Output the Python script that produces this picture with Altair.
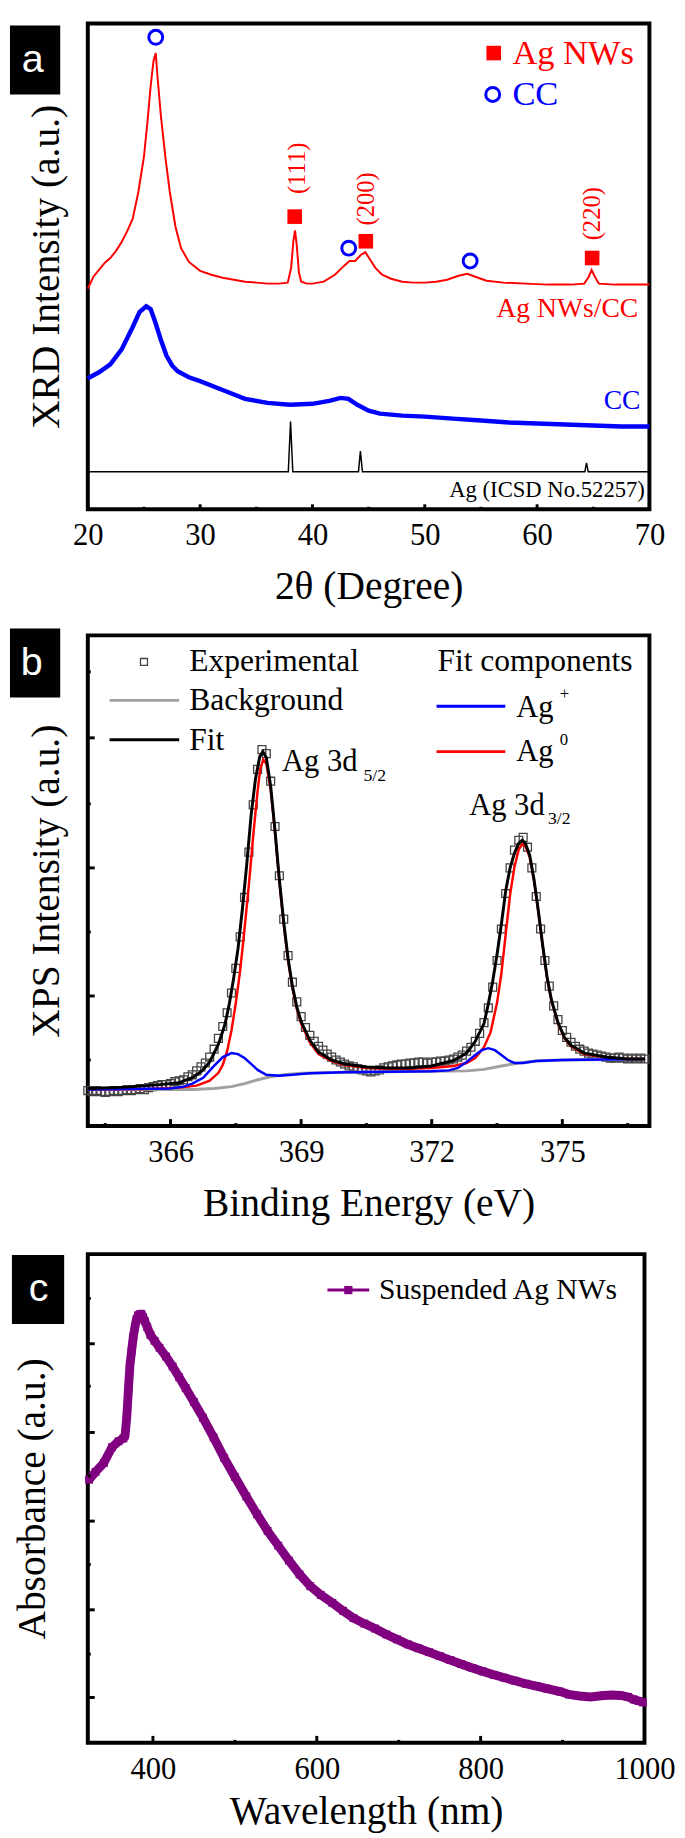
import altair as alt
import pandas as pd

SERIF = "Liberation Serif"
SANS = "Liberation Sans"
RED, BLUE, PURPLE, GRAY = "#ff0000", "#0000ff", "#800080", "#a0a0a0"

# ================= (a) XRD =================
xrd_agnw_2theta = [20.0, 20.5, 21.0, 21.5, 22.0, 22.5, 23.0, 23.5, 24.0, 24.5, 25.0, 25.3, 25.6, 25.85,
                   26.05, 26.2, 26.5, 26.9, 27.3, 27.8, 28.3, 29.0, 30.0, 31.0, 32.0, 33.0, 34.0, 35.0,
                   36.0, 37.0, 37.8, 38.1, 38.3, 38.45, 38.6, 38.8, 39.0, 39.5, 40.0, 41.0, 42.0, 42.8,
                   43.3, 43.8, 44.3, 44.7, 45.1, 45.6, 46.2, 47.0, 48.0, 49.0, 50.0, 51.0, 52.0, 53.0,
                   53.8, 54.5, 55.5, 57.0, 59.0, 61.0, 63.0, 64.2, 64.6, 64.85, 65.1, 65.5, 67.0, 70.0]
xrd_agnw_int = [224, 236, 243, 250, 255, 262, 271, 282, 295, 322, 358, 392, 430, 455,
                463, 440, 400, 358, 322, 287, 265, 251, 242, 238, 235, 233, 231, 230,
                229, 229, 230, 245, 272, 283, 268, 240, 231, 229, 229, 231, 238, 247,
                252, 252, 258, 261, 254, 245, 238, 234, 231, 230, 230, 231, 233, 237,
                239, 236, 232, 230, 229, 228, 228, 229, 236, 243, 237, 229, 228, 228]
xrd_cc_2theta = [20, 21, 22, 23, 24, 24.6, 25.2, 25.6, 26.0, 26.5, 27.0, 27.5, 28.0, 29.0, 30.0,
                 32, 34, 36, 38, 40, 41.5, 42.5, 43.2, 44, 45, 46, 48, 50, 52.5, 55, 57.5, 60,
                 62.5, 65, 67.5, 70]
xrd_cc_int = [133, 139, 147, 162, 185, 200, 206, 203, 190, 172, 156, 146, 140, 134, 130,
              121, 112, 108, 106, 107, 110, 113, 112, 106, 100, 97, 95, 94, 92, 90, 88, 87,
              86, 85, 84, 84]
xrd_ref_2theta = [20, 37.85, 38.05, 38.25, 44.1, 44.27, 44.45, 64.25, 64.4, 64.55, 70]
xrd_ref_int = [38, 38, 89, 38, 38, 59, 38, 38, 47, 38, 38]
xrd_cc_mark_x = [26.05, 43.23, 54.04]
xrd_cc_mark_y = [479, 265, 252]
xrd_ag_mark_x = [38.42, 44.75, 64.9]
xrd_ag_mark_y = [297, 272, 255]
xrd_hkl = ["(111)", "(200)", "(220)"]
xrd_hkl_x = [38.6, 44.75, 64.9]
xrd_hkl_y = [346, 315, 300]
xrd_ticks_major = [20, 30, 40, 50, 60, 70]
xrd_ticks_minor = [25, 35, 45, 55, 65]

# ================= (b) XPS =================
xps_exp_start, xps_exp_step = 364.1, 0.1
xps_exp_int = [36, 35, 36, 35, 34, 35, 36, 35, 36, 37,
               36, 37, 38, 37, 39, 40, 41, 42, 42, 43,
               45, 46, 47, 50, 52, 56, 60, 64, 70, 78,
               89, 101, 115, 135, 160, 192, 232, 278, 326, 362,
               382, 378, 350, 304, 254, 210, 173, 146, 126, 111,
               100, 92, 86, 81, 77, 73, 70, 67, 65, 63,
               61, 60, 58, 57, 56, 55, 56, 57, 59, 60,
               61, 62, 63, 63, 64, 64, 65, 65, 64, 65,
               65, 66, 66, 67, 68, 70, 72, 76, 80, 86,
               94, 105, 120, 141, 168, 200, 236, 262, 280, 290,
               293, 283, 262, 233, 200, 168, 142, 122, 108, 97,
               90, 85, 81, 78, 76, 74, 73, 72, 71, 70,
               69, 69, 70, 69, 68, 69, 68, 69, 68]
xps_bg_e = [364.1, 366.5, 367.0, 367.4, 367.7, 368.0, 368.3, 368.6, 369.0, 370.0,
            371.0, 372.0, 372.8, 373.2, 373.6, 374.0, 374.4, 375.0, 376.9]
xps_bg_int = [37, 37, 38, 40, 43, 47, 50, 52, 53.5, 54.5,
              55, 55.5, 56, 57.5, 61, 64, 66, 67, 68]
xps_fit_e = [364.1, 365.0, 365.75, 366.2, 366.5, 366.7, 366.9, 367.1, 367.25, 367.35,
             367.45, 367.55, 367.65, 367.75, 367.85, 367.95, 368.05, 368.12, 368.2, 368.3,
             368.4, 368.5, 368.6, 368.7, 368.8, 368.9, 369.0, 369.2, 369.4, 369.7,
             370.0, 370.5, 371.0, 371.5, 372.0, 372.5, 372.8, 373.0, 373.2, 373.3,
             373.4, 373.5, 373.6, 373.7, 373.8, 373.9, 374.0, 374.08, 374.15, 374.25,
             374.35, 374.45, 374.55, 374.65, 374.75, 374.9, 375.05, 375.2, 375.5, 376.0,
             376.5, 376.9]
xps_fit_int = [38, 39.5, 42, 44, 49, 55, 65, 83, 103, 124,
               150, 180, 220, 265, 315, 352, 375, 380, 374, 345,
               300, 250, 207, 170, 142, 121, 106, 87, 75, 67,
               63, 60, 59, 59, 61, 66.5, 74, 86, 104, 124,
               147, 174, 205, 239, 262, 277, 287, 290, 287, 275,
               250, 218, 183, 151, 128, 105, 90, 82, 74, 70,
               68, 68]
xps_agp_e = [364.1, 366.0, 366.3, 366.5, 366.75, 367.0, 367.2, 367.4, 367.55, 367.7,
             367.85, 368.0, 368.2, 368.5, 368.8, 369.2, 370, 371, 372, 372.4,
             372.6, 372.8, 373.0, 373.15, 373.3, 373.45, 373.6, 373.75, 373.9, 374.1,
             374.4, 375.0, 376.9]
xps_agp_int = [37, 38, 40, 43, 49, 61, 70, 74, 73, 69,
               63, 57, 52, 51, 52, 53.5, 54.5, 55, 55.5, 56.5,
               59, 65, 72, 77, 79, 77, 72, 67, 64, 64,
               66, 67, 68]
xps_ag0_e = [364.1, 365.5, 366.2, 366.6, 366.9, 367.1, 367.2, 367.3, 367.4, 367.5,
             367.6, 367.7, 367.8, 367.9, 368.0, 368.06, 368.13, 368.2, 368.3, 368.4,
             368.5, 368.6, 368.7, 368.8, 368.9, 369.0, 369.2, 369.4, 369.7, 370.0,
             370.5, 371.0, 371.5, 372.0, 372.5, 372.8, 373.0, 373.2, 373.35, 373.5,
             373.6, 373.7, 373.8, 373.9, 374.0, 374.08, 374.15, 374.25, 374.35, 374.45,
             374.55, 374.65, 374.75, 374.9, 375.05, 375.2, 375.5, 376.0, 376.5, 376.9]
xps_ag0_int = [37, 37.5, 39, 41, 46, 54, 62, 76, 97, 125,
               158, 200, 245, 295, 340, 362, 372, 368, 342, 298,
               248, 205, 168, 140, 119, 104, 85, 73, 66, 62,
               59, 58, 58, 59, 61, 64, 69, 80, 95, 125,
               155, 195, 235, 263, 281, 286, 284, 273, 249, 217,
               182, 150, 127, 104, 89, 81, 73, 69.5, 68, 68]
xps_ticks_major = [366, 369, 372, 375]
xps_ticks_minor = [364.5, 367.5, 370.5, 373.5, 376.5]
xps_yticks_major = [394, 262, 132]
xps_yticks_minor = [461, 327, 197, 67]

# ================= (c) UV-vis =================
uv_nm = [322, 330, 340, 350, 358, 364, 366, 368, 370, 372, 374, 376, 378, 380, 382, 384, 386,
         388, 390, 393, 397, 402, 408, 416, 424, 432, 440, 450, 461, 474, 487, 500, 514, 527,
         540, 553, 566, 579, 592, 605, 619, 632, 645, 658, 671, 685, 698, 711, 724, 737, 750,
         763, 776, 790, 803, 816, 829, 842, 855, 868, 881, 897, 908, 921, 934, 950, 960, 971,
         980, 987, 993, 998]
uv_abs = [267, 275, 284, 300, 306, 309, 312, 330, 358, 384, 398, 412, 422, 430, 434, 435, 435,
          432, 428, 422, 414, 408, 401, 392, 382, 371, 360, 346, 330, 310, 289, 270, 250, 232,
          215, 200, 185, 171, 159, 150, 142, 134, 126.5, 121, 116, 110, 105, 100, 96, 92, 88,
          84, 80, 76, 72.4, 69, 66, 63, 60, 57.5, 55, 52, 49, 47.5, 46.5, 48, 48.5, 48,
          46.5, 44, 42.5, 41]
uv_ticks_major = [400, 600, 800, 1000]
uv_ticks_minor = [500, 700, 900]
uv_yticks_major = [405, 315, 225, 135, 46]
uv_yticks_minor = [451, 362, 271, 181, 90]

A_W, A_H = 570, 493
B_W, B_H = 570, 498
C_W, C_H = 565, 496

AXIS_STYLE = dict(labelFont=SERIF, labelFontSize=31, labelColor="black", titleFont=SERIF,
                  titleFontSize=40, titleFontWeight="normal", titleColor="black", grid=False,
                  ticks=False, tickSize=0, domain=False, labelFlush=False, labelOverlap=False)


def xy(xs, ys):
    return pd.DataFrame({"x": xs, "y": ys})


def txt(xs, ys, ts):
    return pd.DataFrame({"x": xs, "y": ys, "t": ts})


def x_enc(domain, values, title, title_pad):
    return alt.X("x:Q", scale=alt.Scale(domain=domain, nice=False, zero=False),
                 axis=alt.Axis(values=values, title=title, format="d", labelPadding=12,
                               titlePadding=title_pad, **AXIS_STYLE))


def y_enc(domain, title, title_pad):
    return alt.Y("y:Q", scale=alt.Scale(domain=domain, nice=False, zero=False),
                 axis=alt.Axis(title=title, labels=False, titlePadding=title_pad, **AXIS_STYLE))


def bottom_ticks(X, vals, length, h):
    return alt.Chart(pd.DataFrame({"x": vals})).mark_rule(color="black", strokeWidth=3).encode(
        x=X, y=alt.value(h), y2=alt.value(h - length))


def left_ticks(Y, vals, length):
    return alt.Chart(pd.DataFrame({"y": vals})).mark_rule(color="black", strokeWidth=3).encode(
        y=Y, x=alt.value(0), x2=alt.value(length))


def text_layer(df, X, Y, color, size, align="left", angle=None, font=SERIF):
    kw = dict(font=font, fontSize=size, color=color, align=align, baseline="middle")
    if angle is not None:
        kw["angle"] = angle
    return alt.Chart(df).mark_text(**kw).encode(x=X, y=Y, text="t:N")


def label_box(letter, x1, x2, y1, y2, tx, ty):
    d = pd.DataFrame({"t": [letter]})
    box = alt.Chart(d).mark_rect(color="black").encode(
        x=alt.value(x1), x2=alt.value(x2), y=alt.value(y1), y2=alt.value(y2))
    t = alt.Chart(d).mark_text(font=SANS, fontSize=40, color="white", align="center",
                               baseline="middle").encode(x=alt.value(tx), y=alt.value(ty), text="t:N")
    return [box, t]


# ---------------- panel a ----------------
XA = x_enc([20, 70], xrd_ticks_major, "2θ (Degree)", 17)
YA = y_enc([0, A_H], "XRD Intensity (a.u.)", 22)
pa = [
    alt.Chart(xy(xrd_ref_2theta, xrd_ref_int)).mark_line(color="black", strokeWidth=1.5).encode(x=XA, y=YA),
    alt.Chart(xy(xrd_cc_2theta, xrd_cc_int)).mark_line(color=BLUE, strokeWidth=4.5).encode(x=XA, y=YA),
    alt.Chart(xy(xrd_agnw_2theta, xrd_agnw_int)).mark_line(color=RED, strokeWidth=2).encode(x=XA, y=YA),
    alt.Chart(xy(xrd_cc_mark_x + [56.05], xrd_cc_mark_y + [421])).mark_point(
        shape="circle", size=200, color=BLUE, strokeWidth=3, filled=False, opacity=1).encode(x=XA, y=YA),
    alt.Chart(xy(xrd_ag_mark_x + [56.14], xrd_ag_mark_y + [463])).mark_point(
        shape="square", size=220, color=RED, filled=True, opacity=1).encode(x=XA, y=YA),
    text_layer(txt(xrd_hkl_x, xrd_hkl_y, xrd_hkl), XA, YA, RED, 25, align="center", angle=270),
    text_layer(txt([57.8], [463], ["Ag NWs"]), XA, YA, RED, 35),
    text_layer(txt([57.8], [421], ["CC"]), XA, YA, BLUE, 35),
    text_layer(txt([69.0], [203], ["Ag NWs/CC"]), XA, YA, RED, 28, align="right"),
    text_layer(txt([69.2], [110], ["CC"]), XA, YA, BLUE, 28, align="right"),
    text_layer(txt([69.6], [19], ["Ag (ICSD No.52257)"]), XA, YA, "black", 23, align="right"),
    bottom_ticks(XA, xrd_ticks_major, 5, A_H),
    bottom_ticks(XA, xrd_ticks_minor, 2.5, A_H),
] + label_box("a", -79, -28, 2, 72, -56, 37)
panel_a = alt.layer(*pa).properties(width=A_W, height=A_H)

# ---------------- panel b ----------------
XB = x_enc([364.1, 377.0], xps_ticks_major, "Binding Energy (eV)", 17)
YB = y_enc([0, B_H], "XPS Intensity (a.u.)", 22)
exp_e = [round(xps_exp_start + xps_exp_step * i, 2) for i in range(len(xps_exp_int))]
pb = [
    alt.Chart(xy(exp_e, xps_exp_int)).mark_point(shape="square", size=64, color="#444444",
                                                 strokeWidth=1.3, filled=False, opacity=1).encode(x=XB, y=YB),
    alt.Chart(xy(xps_bg_e, xps_bg_int)).mark_line(color=GRAY, strokeWidth=3).encode(x=XB, y=YB),
    alt.Chart(xy(xps_ag0_e, xps_ag0_int)).mark_line(color=RED, strokeWidth=2.5).encode(x=XB, y=YB),
    alt.Chart(xy(xps_agp_e, xps_agp_int)).mark_line(color=BLUE, strokeWidth=2.5).encode(x=XB, y=YB),
    alt.Chart(xy(xps_fit_e, xps_fit_int)).mark_line(color="black", strokeWidth=3).encode(x=XB, y=YB),
    # legend
    alt.Chart(xy([365.39], [471])).mark_point(shape="square", size=50, color="#444444",
                                              strokeWidth=1.3, filled=False, opacity=1).encode(x=XB, y=YB),
    alt.Chart(pd.DataFrame({"x": [364.6, 364.6, 372.11, 372.11], "x2": [366.2, 366.2, 373.69, 373.69],
                            "y": [432, 392, 426, 380], "c": ["bg", "fit", "agp", "ag0"]})).mark_rule(
        strokeWidth=3).encode(x=XB, x2="x2:Q", y=YB,
                             color=alt.Color("c:N", scale=alt.Scale(domain=["bg", "fit", "agp", "ag0"],
                                                                    range=[GRAY, "black", BLUE, RED]),
                                             legend=None)),
    text_layer(txt([366.43, 366.43, 366.43, 372.13], [472, 432, 392, 472],
                   ["Experimental", "Background", "Fit", "Fit components"]), XB, YB, "black", 32),
    text_layer(txt([373.94, 373.94], [424, 379], ["Ag", "Ag"]), XB, YB, "black", 31),
    text_layer(txt([374.94, 374.94], [438, 392], ["+", "0"]), XB, YB, "black", 17),
    text_layer(txt([368.56, 372.86], [369, 325], ["Ag 3d", "Ag 3d"]), XB, YB, "black", 31),
    text_layer(txt([370.43, 374.67], [355, 312], ["5/2", "3/2"]), XB, YB, "black", 18),
    bottom_ticks(XB, xps_ticks_major, 7, B_H),
    bottom_ticks(XB, xps_ticks_minor, 3, B_H),
    left_ticks(YB, xps_yticks_major, 7),
    left_ticks(YB, xps_yticks_minor, 3),
] + label_box("b", -79, -28, -7, 63, -57, 28)
panel_b = alt.layer(*pb).properties(width=B_W, height=B_H)

# ---------------- panel c ----------------
XC = x_enc([320.5, 1000], uv_ticks_major, "Wavelength (nm)", 8)
YC = y_enc([0, C_H], "Absorbance (a.u.)", 36)
pc = [
    alt.Chart(xy(uv_nm, uv_abs)).mark_line(color=PURPLE, strokeWidth=9).encode(x=XC, y=YC),
    alt.Chart(xy(uv_nm, uv_abs)).mark_point(shape="square", size=64, color=PURPLE, filled=True,
                                            opacity=1).encode(x=XC, y=YC),
    alt.Chart(pd.DataFrame({"x": [613], "x2": [664], "y": [459.5]})).mark_rule(
        color=PURPLE, strokeWidth=3).encode(x=XC, x2="x2:Q", y=YC),
    alt.Chart(xy([638.5], [459.5])).mark_point(shape="square", size=70, color=PURPLE, filled=True,
                                               opacity=1).encode(x=XC, y=YC),
    text_layer(txt([676], [459.5], ["Suspended Ag NWs"]), XC, YC, "black", 30),
    bottom_ticks(XC, uv_ticks_major, 7, C_H),
    bottom_ticks(XC, uv_ticks_minor, 3, C_H),
    left_ticks(YC, uv_yticks_major, 7),
    left_ticks(YC, uv_yticks_minor, 3),
    alt.Chart(pd.DataFrame({"t": [""]})).mark_rect(opacity=0).encode(
        x=alt.value(0), x2=alt.value(10), y=alt.value(-9), y2=alt.value(0)),
] + label_box("c", -77, -24, 1, 71, -50, 36)
panel_c = alt.layer(*pc).properties(width=C_W, height=C_H)

chart = alt.vconcat(panel_a, panel_b, panel_c, spacing=18).properties(padding=0).configure_view(
    stroke="black", strokeWidth=4
).configure_axis(**AXIS_STYLE)

chart.save("out.html", embed_options={"renderer": "svg", "actions": False})
